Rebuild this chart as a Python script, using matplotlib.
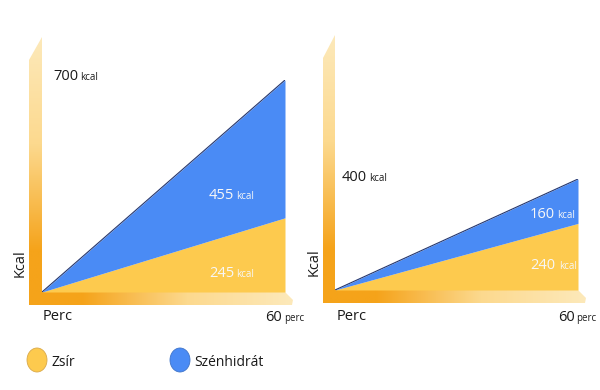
import numpy as np
import matplotlib.pyplot as plt
from matplotlib.colors import LinearSegmentedColormap
from matplotlib.patches import Polygon, Ellipse

plt.rcParams['font.family'] = ['Open Sans', 'DejaVu Sans']

# data
minutes = [0, 60]
fat_a = [0, 245]      # Zsír, left panel
carb_a = [0, 455]     # Szénhidrát, left panel
fat_b = [0, 240]      # right panel
carb_b = [0, 160]
legend_labels = ['Zsír', 'Szénhidrát']

yellow = '#fdca4e'
blue = '#4a8bf5'
light = '#fde9ba'
orange = '#f5a31a'

fig = plt.figure(figsize=(6, 3.9), dpi=100)
bg = fig.add_axes([0, 0, 1, 1])
bg.set_xlim(0, 600)
bg.set_ylim(390, 0)
bg.axis('off')

cmap = LinearSegmentedColormap.from_list(
    'bar', [(0, light), (0.4, '#fcd98e'), (0.8, orange), (1, orange)])
grad = np.linspace(0, 1, 256)


def axis_bars(x0, x1, ytop, y0, xr):
    # vertical bar, light at the top
    vpoly = Polygon([(x0, ytop + 23), (x1, ytop), (x1, y0 + 13), (x0, y0 + 13)],
                    closed=True, fc='none', ec='none')
    bg.add_patch(vpoly)
    im = bg.imshow(grad.reshape(-1, 1), cmap=cmap, aspect='auto', origin='upper',
                   extent=(x0, x1, y0 + 13, ytop))
    im.set_clip_path(vpoly)
    # horizontal bar, orange on the left
    hpoly = Polygon([(x0, y0), (xr, y0), (xr + 8, y0 + 8), (xr + 7, y0 + 13), (x0, y0 + 13)],
                    closed=True, fc='none', ec='none')
    bg.add_patch(hpoly)
    im = bg.imshow(grad[::-1].reshape(1, -1), cmap=cmap, aspect='auto', origin='upper',
                   extent=(x0, xr + 8, y0 + 13, y0))
    im.set_clip_path(hpoly)


def panel(px, py, w, h, fat, carb):
    ax = fig.add_axes([px / 600, (390 - py) / 390, w / 600, h / 390])
    top = [f + c for f, c in zip(fat, carb)]
    ax.fill_between(minutes, 0, fat, color=yellow, lw=0)
    ax.fill_between(minutes, fat, top, color=blue, lw=0)
    ax.plot(minutes, top, color='#24366e', lw=0.8)
    ax.set_xlim(0, 60)
    ax.set_ylim(0, top[-1])
    ax.axis('off')
    ax.patch.set_alpha(0)


axis_bars(29, 42, 37, 292, 285)
axis_bars(323, 335, 35, 290, 578)
panel(42, 292, 243, 212, fat_a, carb_a)
panel(335, 290, 243, 111, fat_b, carb_b)

# overlay for all text, so it sits above the filled areas
fg = fig.add_axes([0, 0, 1, 1])
fg.set_xlim(0, 600)
fg.set_ylim(390, 0)
fg.axis('off')
fg.patch.set_alpha(0)


def two_size(xr, xl, y, big, small, color):
    fg.text(xr, y, big, ha='right', va='baseline', fontsize=10.5, color=color)
    fg.text(xl, y, small, ha='left', va='baseline', fontsize=7, color=color)


dark = '#1a1a1a'
white = '#f7f7f7'
# left panel texts
two_size(78, 80, 80, str(fat_a[-1] + carb_a[-1]), 'kcal', dark)
two_size(234, 236, 199, str(carb_a[-1]), 'kcal', white)
two_size(234, 236, 277, str(fat_a[-1]), 'kcal', white)
two_size(282, 284, 321, str(minutes[-1]), 'perc', dark)
fg.text(20, 263, 'Kcal', rotation=90, ha='center', va='center', fontsize=10.5, color=dark)
fg.text(43, 320, 'Perc', ha='left', va='baseline', fontsize=10.5, color=dark)

# right panel texts
two_size(367, 369, 181, str(fat_b[-1] + carb_b[-1]), 'kcal', dark)
two_size(555, 557, 218, str(carb_b[-1]), 'kcal', white)
two_size(555, 559, 269, str(fat_b[-1]), 'kcal', white)
two_size(575, 576, 321, str(minutes[-1]), 'perc', dark)
fg.text(314, 262, 'Kcal', rotation=90, ha='center', va='center', fontsize=10.5, color=dark)
fg.text(337, 320, 'Perc', ha='left', va='baseline', fontsize=10.5, color=dark)

# legend
for cx, col, edge, lab in zip([37, 180], [yellow, blue], ['#d9a94a', '#3f74c9'], legend_labels):
    fg.add_patch(Ellipse((cx, 360), 20, 24, fc=col, ec=edge, lw=0.6))
    fg.text(cx + 14, 366, lab, ha='left', va='baseline', fontsize=10, color=dark)

fig.savefig('out.png', dpi=100)
